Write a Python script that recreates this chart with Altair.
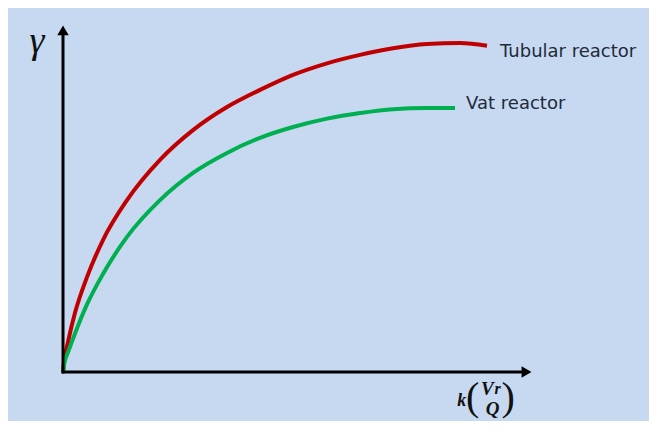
import altair as alt
import pandas as pd

# Curve data (abstract units: x 0..100 along axis, y 0..100 along axis)
red_x = [0, 0.3, 1.06, 2.54, 5.08, 8.47, 13.56, 20.55, 27.54, 34.75, 41.74, 48.73,
         55.93, 62.92, 69.92, 77.12, 84.11, 89.83]
red_y = [0, 3.6, 8.6, 16.9, 27.1, 37.7, 49.1, 60.6, 69.1, 75.7, 80.6, 84.9,
         88.2, 90.6, 92.5, 93.7, 94.0, 93.2]
green_x = [0, 0.3, 1.06, 2.54, 5.08, 8.47, 13.56, 20.55, 27.54, 34.75, 41.74, 48.73,
           55.93, 62.92, 69.92, 77.12, 83.05]
green_y = [0, 2.6, 5.6, 11.0, 19.3, 28.0, 38.6, 49.1, 56.9, 62.6, 66.9, 70.0,
           72.4, 74.0, 75.1, 75.4, 75.4]

series_names = ["Tubular reactor", "Vat reactor"]
series_colors = ["#C00000", "#00B050"]

XD = [-11.653, 124.15]
YD = [-14.0, 104.0]

rows = []
for i, (x, y) in enumerate(zip(red_x, red_y)):
    rows.append({"s": series_names[0], "x": x, "y": y, "o": i})
for i, (x, y) in enumerate(zip(green_x, green_y)):
    rows.append({"s": series_names[1], "x": x, "y": y, "o": i})
curves = pd.DataFrame(rows)

xs = alt.Scale(domain=XD, nice=False, zero=False)
ys = alt.Scale(domain=YD, nice=False, zero=False)

def X(f="x"):
    return alt.X(f"{f}:Q", scale=xs, axis=None)

def Y(f="y"):
    return alt.Y(f"{f}:Q", scale=ys, axis=None)

lines = alt.Chart(curves).mark_line(strokeWidth=4, interpolate="monotone").encode(
    x=X(), y=Y(), order="o:Q",
    color=alt.Color("s:N", scale=alt.Scale(domain=series_names, range=series_colors), legend=None),
)

# axes
ax_df = pd.DataFrame([
    {"x": 0, "y": -0.45, "x2": 0, "y2": 97},
    {"x": -0.3, "y": 0, "x2": 97.5, "y2": 0},
])
axes = alt.Chart(ax_df).mark_rule(color="black", strokeWidth=3).encode(
    x=X(), y=Y(), x2="x2:Q", y2="y2:Q")

arr_up = alt.Chart(pd.DataFrame([{"x": 0, "y": 97.6}])).mark_point(
    shape="triangle-up", filled=True, color="black", opacity=1, size=130).encode(x=X(), y=Y())
arr_right = alt.Chart(pd.DataFrame([{"x": 98.2, "y": 0}])).mark_point(
    shape="triangle-right", filled=True, color="black", opacity=1, size=130).encode(x=X(), y=Y())

# series labels
lab_df = pd.DataFrame([
    {"t": "Tubular reactor", "x": 92.6, "y": 91.4},
    {"t": "Vat reactor", "x": 85.4, "y": 76.6},
])
labels = alt.Chart(lab_df).mark_text(
    align="left", baseline="middle", font="DejaVu Sans", fontSize=18, color="#1F2A3A").encode(
    x=X(), y=Y(), text="t:N")

gamma = alt.Chart(pd.DataFrame([{"t": "γ", "x": -5.5, "y": 94.3}])).mark_text(
    align="center", baseline="middle", font="Liberation Serif", fontStyle="italic",
    fontSize=38, color="#111111").encode(x=X(), y=Y(), text="t:N")

# x-axis math label k (V_r / Q)
math_bold = pd.DataFrame([
    {"t": "k", "x": 84.5, "y": -8.4, "fs": 18},
    {"t": "V", "x": 89.9, "y": -4.9, "fs": 19},
    {"t": "r", "x": 92.1, "y": -4.9, "fs": 16},
    {"t": "Q", "x": 91.0, "y": -10.6, "fs": 19},
])
mb = alt.Chart(math_bold).mark_text(
    align="center", baseline="middle", font="Liberation Serif", fontStyle="italic",
    fontWeight="bold", color="#111111").encode(
    x=X(), y=Y(), text="t:N", size=alt.Size("fs:Q", scale=None, legend=None))
parens = alt.Chart(pd.DataFrame([
    {"t": "(", "x": 86.8, "y": -7.3},
    {"t": ")", "x": 94.3, "y": -7.3},
])).mark_text(align="center", baseline="middle", font="Liberation Serif", fontSize=40,
              color="#111111").encode(x=X(), y=Y(), text="t:N")

chart = alt.layer(lines, axes, arr_up, arr_right, labels, gamma, mb, parens).properties(
    width=641, height=413, padding=0, background="#C6D9F0",
    autosize=alt.AutoSizeParams(type="none"),
).configure_view(stroke=None)

chart.save("out.html", embed_options={"renderer": "svg", "actions": False})
